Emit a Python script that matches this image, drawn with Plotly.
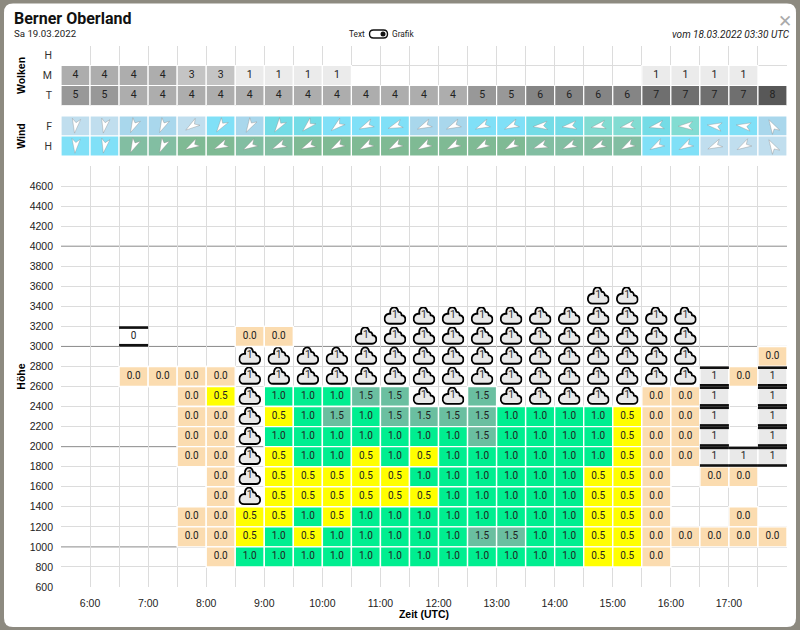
import base64
import plotly.graph_objects as go

W, H = 800, 630

_ = None
C = "C"   # cloud inside the thermal layer
L = "L"   # closed layer, value 1
Z = "Z"   # closed layer, value 0

heights = [3400, 3200, 3000, 2800, 2600, 2400, 2200, 2000, 1800, 1600, 1400, 1200, 1000, 800]
row_3400 = [_, _, _, _, _, _, _, _, _, _, _, _, _, _, _, _, _, _, C, C, _, _, _, _, _]
row_3200 = [_, _, _, _, _, _, _, _, _, _, _, C, C, C, C, C, C, C, C, C, C, C, _, _, _]
row_3000 = [_, _, Z, _, _, _, 0.0, 0.0, _, _, C, C, C, C, C, C, C, C, C, C, C, C, _, _, _]
row_2800 = [_, _, _, _, _, _, C, C, C, C, C, C, C, C, C, C, C, C, C, C, C, C, _, _, 0.0]
row_2600 = [_, _, 0.0, 0.0, 0.0, 0.0, C, C, C, C, C, C, C, C, C, C, C, C, C, C, C, C, L, 0.0, L]
row_2400 = [_, _, _, _, 0.0, 0.5, C, 1.0, 1.0, 1.0, 1.5, 1.5, C, C, 1.5, C, C, C, C, C, 0.0, 0.0, L, _, L]
row_2200 = [_, _, _, _, 0.0, 0.0, C, 0.5, 1.0, 1.5, 1.0, 1.5, 1.5, 1.5, 1.5, 1.0, 1.0, 1.0, 1.0, 0.5, 0.0, 0.0, L, _, L]
row_2000 = [_, _, _, _, 0.0, 0.0, C, 1.0, 1.0, 1.0, 1.0, 1.0, 1.0, 1.0, 1.5, 1.0, 1.0, 1.0, 1.0, 0.5, 0.0, 0.0, L, _, L]
row_1800 = [_, _, _, _, 0.0, 0.0, C, 0.5, 1.0, 1.0, 0.5, 1.0, 0.5, 1.0, 1.0, 1.0, 1.0, 1.0, 1.0, 0.5, 0.0, 0.0, L, L, L]
row_1600 = [_, _, _, _, _, 0.0, C, 0.5, 0.5, 0.5, 0.5, 0.5, 1.0, 1.0, 1.0, 1.0, 1.0, 1.0, 0.5, 0.5, 0.0, _, 0.0, 0.0, _]
row_1400 = [_, _, _, _, _, 0.0, C, 0.5, 0.5, 0.5, 0.5, 0.5, 0.5, 1.0, 1.0, 1.0, 1.0, 1.0, 0.5, 0.5, 0.0, _, _, _, _]
row_1200 = [_, _, _, _, 0.0, 0.0, 0.5, 0.5, 1.0, 0.5, 1.0, 1.0, 1.0, 1.0, 1.0, 1.0, 1.0, 1.0, 0.5, 0.5, 0.0, _, _, 0.0, _]
row_1000 = [_, _, _, _, 0.0, 0.0, 0.5, 1.0, 0.5, 1.0, 1.0, 1.0, 1.0, 1.0, 1.5, 1.5, 1.0, 1.0, 0.5, 0.5, 0.0, 0.0, 0.0, 0.0, 0.0]
row_800 = [_, _, _, _, _, 0.0, 1.0, 1.0, 1.0, 1.0, 1.0, 1.0, 1.0, 1.0, 1.0, 1.0, 1.0, 1.0, 0.5, 0.5, 0.0, _, _, _, _]
rows = [row_3400, row_3200, row_3000, row_2800, row_2600, row_2400, row_2200,
        row_2000, row_1800, row_1600, row_1400, row_1200, row_1000, row_800]

hours = [5.75 + 0.5 * i for i in range(25)]
hour_ticks = list(range(6, 18))
hour_labels = [f"{h}:00" for h in hour_ticks]
height_ticks = list(range(600, 4800, 200))
strong_lines = [1000, 2000, 3000, 4000]
light_lines = [v for v in range(600, 5000, 200) if v not in strong_lines]

clouds_high = [_] * 25
clouds_mid = [4, 4, 4, 4, 3, 3, 1, 1, 1, 1, _, _, _, _, _, _, _, _, _, _, 1, 1, 1, 1, _]
clouds_low = [5, 5, 4, 4, 4, 4, 4, 4, 4, 4, 4, 4, 4, 4, 5, 5, 6, 6, 6, 6, 7, 7, 7, 7, 8]

wind_free_speed = [5, 5, 10, 10, 5, 15, 10, 20, 20, 15, 15, 15, 10, 10, 15, 15, 20, 20, 25, 25, 20, 25, 15, 15, 10]
wind_free_dir = [188, 190, 205, 205, 235, 215, 210, 215, 225, 230, 245, 250, 245, 245, 245, 245,
                 265, 262, 258, 258, 258, 268, 278, 278, 330]
wind_high_speed = [15, 15, 30, 30, 35, 35, 30, 30, 35, 35, 35, 35, 35, 35, 35, 35, 30, 30, 30, 30, 15, 15, 5, 5, 5]
wind_high_dir = [185, 190, 205, 205, 240, 245, 240, 245, 245, 240, 240, 240, 240, 240, 240, 240,
                 250, 245, 245, 240, 240, 240, 245, 240, 330]

value_colors = {0.0: "#fbdcb0", 0.5: "#ffff00", 1.0: "#00ee90", 1.5: "#6abfa0"}
okta_colors = {1: "#ebebeb", 3: "#c4c4c4", 4: "#adadad", 5: "#989898", 6: "#858585", 7: "#6f6f6f", 8: "#585858"}
wind_colors = {5: "#c0deee", 10: "#a9d7ec", 15: "#80e0f7", 20: "#74dce6", 25: "#82dcd2", 30: "#82bea2", 35: "#7fba94"}

FONT = "Roboto"
ARIAL = "Liberation Sans"
GRID = "#dcdcdc"

CLOUD_SVG = (
    '<svg xmlns="http://www.w3.org/2000/svg" viewBox="0 0 24 19">'
    '<path d="M6,17.6 H18.5 C21.4,17.6 23,15.6 23,13.4 C23,11 21.2,9.3 19,9.2 C19,7 17.4,5.6 15.6,5.8 '
    'C15,3 13.4,1.2 11.2,1.2 C8.6,1.2 6.8,3.4 6.9,6.2 C7,7 7.1,7.4 7.2,7.8 C6.6,7.6 6.2,7.6 5.6,7.7 '
    'C3,8.2 1,10.4 1,13 C1,15.6 3,17.6 6,17.6 Z" fill="#e9e9e9" stroke="#000" stroke-width="1.9" '
    'stroke-linejoin="round"/></svg>'
)
cloud_src = "data:image/svg+xml;base64," + base64.b64encode(CLOUD_SVG.encode()).decode()


def arrow_src(angle):
    svg = (
        '<svg xmlns="http://www.w3.org/2000/svg" viewBox="0 0 20 20">'
        f'<path transform="rotate({angle} 10 10)" d="M10,2.8 L14.2,17.2 L10,13.4 L5.8,17.2 Z" '
        'fill="#fff" stroke="#8a8a8a" stroke-opacity="0.7" stroke-width="0.5" stroke-linejoin="round"/></svg>'
    )
    return "data:image/svg+xml;base64," + base64.b64encode(svg.encode()).decode()


def px_x(v):
    return v / W


def px_y(v):
    return 1 - v / H


def rounded(x0, y0, x1, y1, r):
    # rounded box in paper coordinates, given in pixels
    pts = [
        f"M {px_x(x0 + r)},{px_y(y0)}", f"L {px_x(x1 - r)},{px_y(y0)}",
        f"Q {px_x(x1)},{px_y(y0)} {px_x(x1)},{px_y(y0 + r)}", f"L {px_x(x1)},{px_y(y1 - r)}",
        f"Q {px_x(x1)},{px_y(y1)} {px_x(x1 - r)},{px_y(y1)}", f"L {px_x(x0 + r)},{px_y(y1)}",
        f"Q {px_x(x0)},{px_y(y1)} {px_x(x0)},{px_y(y1 - r)}", f"L {px_x(x0)},{px_y(y0 + r)}",
        f"Q {px_x(x0)},{px_y(y0)} {px_x(x0 + r)},{px_y(y0)}", "Z",
    ]
    return " ".join(pts)


fig = go.Figure()

# main height / time grid
bar_x, bar_base, bar_col = [], [], []
txt_x, txt_y, txt_s = [], [], []
cloud_x, cloud_y = [], []
edge_x, edge_y = [], []
images = []
for h, row in zip(heights, rows):
    for hx, v in zip(hours, row):
        if v is None:
            continue
        mid = h + 100
        if v == C:
            cloud_x.append(hx)
            cloud_y.append(mid)
            images.append(dict(source=cloud_src, xref="x", yref="y", x=hx, y=mid + 8, sizex=0.39, sizey=190,
                               xanchor="center", yanchor="middle", sizing="stretch", layer="below"))
        elif v in (L, Z):
            if v == L:
                bar_x.append(hx)
                bar_base.append(h)
                bar_col.append("#e9e9e9")
            txt_x.append(hx)
            txt_y.append(mid)
            txt_s.append("1" if v == L else "0")
            for edge in (h + 12, h + 188):
                edge_x += [hx - 0.25, hx + 0.25, None]
                edge_y += [edge, edge, None]
        else:
            bar_x.append(hx)
            bar_base.append(h)
            bar_col.append(value_colors[v])
            txt_x.append(hx)
            txt_y.append(mid)
            txt_s.append(f"{v:.1f}")

fig.add_trace(go.Bar(x=bar_x, y=[200] * len(bar_x), base=bar_base, width=0.5,
                     marker=dict(color=bar_col, line=dict(color="white", width=1.4)),
                     showlegend=False, hoverinfo="skip"))
fig.add_trace(go.Scatter(x=edge_x, y=edge_y, mode="lines", line=dict(color="#111", width=2.6),
                         connectgaps=False, showlegend=False, hoverinfo="skip"))
fig.add_trace(go.Scatter(x=txt_x, y=txt_y, mode="text", text=txt_s,
                         textfont=dict(family=FONT, size=10, color="#222"),
                         showlegend=False, hoverinfo="skip"))
fig.add_trace(go.Scatter(x=cloud_x, y=[y + 10 for y in cloud_y], mode="text", text=["1"] * len(cloud_x),
                         textfont=dict(family=FONT, size=10.5, color="#333"),
                         showlegend=False, hoverinfo="skip"))

# cloud cover table
cl_x, cl_base, cl_col, cl_txt_y, cl_txt = [], [], [], [], []
for base, row in [(2, clouds_high), (1, clouds_mid), (0, clouds_low)]:
    for hx, v in zip(hours, row):
        if v is None:
            continue
        cl_x.append(hx)
        cl_base.append(base)
        cl_col.append(okta_colors[v])
        cl_txt_y.append(base + 0.5)
        cl_txt.append(str(v))
fig.add_trace(go.Bar(x=cl_x, y=[1] * len(cl_x), base=cl_base, width=0.5, xaxis="x2", yaxis="y2",
                     marker=dict(color=cl_col, line=dict(color="white", width=1.2)),
                     showlegend=False, hoverinfo="skip"))
fig.add_trace(go.Scatter(x=cl_x, y=cl_txt_y, mode="text", text=cl_txt, xaxis="x2", yaxis="y2",
                         textfont=dict(family=FONT, size=10.5, color="#222"),
                         showlegend=False, hoverinfo="skip"))

# wind table, arrows are rotated svg images placed on the table's own axes
for base, speeds, dirs in [(1, wind_free_speed, wind_free_dir), (0, wind_high_speed, wind_high_dir)]:
    fig.add_trace(go.Bar(x=hours, y=[1] * 25, base=[base] * 25, width=0.5, xaxis="x3", yaxis="y3",
                         marker=dict(color=[wind_colors[s] for s in speeds], line=dict(color="white", width=1.2)),
                         showlegend=False, hoverinfo="skip"))
    for hx, d in zip(hours, dirs):
        images.append(dict(source=arrow_src(d), xref="x3", yref="y3", x=hx, y=base + 0.5, sizex=0.345, sizey=1,
                           xanchor="center", yanchor="middle", sizing="stretch", layer="above"))

x_minor = [5.5 + 0.5 * i for i in range(26)]
x_dom = [px_x(61), px_x(787)]
axis_font = dict(family=ARIAL, size=10.5, color="#222")
title_font = dict(family=ARIAL, size=10.5, color="#000")

shapes = [
    dict(type="path", xref="paper", yref="paper", path=rounded(4, 3.5, 796, 627, 9), fillcolor="white",
         line=dict(width=0), layer="below"),
    dict(type="path", xref="paper", yref="paper", path=rounded(369.5, 30, 387.5, 38, 4), fillcolor="white",
         line=dict(color="#111", width=1.4), layer="above"),
    dict(type="circle", xref="paper", yref="paper", x0=px_x(380.5), x1=px_x(385.5), y0=px_y(36.5), y1=px_y(31.5),
         fillcolor="#111", line=dict(width=0), layer="above"),
]
# these sit under the grid layer, so the light grid leaves their heights out
for v in strong_lines:
    shapes.append(dict(type="line", xref="x domain", yref="y", x0=0, x1=1, y0=v, y1=v,
                       line=dict(color="#8a8a8a", width=1), layer="below"))


def note(text, x, y, anchor, size, family=FONT, color="#111", bold=False, italic=False):
    if bold:
        text = f"<b>{text}</b>"
    if italic:
        text = f"<i>{text}</i>"
    return dict(text=text, xref="paper", yref="paper", x=px_x(x), y=px_y(y), xanchor=anchor, yanchor="middle",
                showarrow=False, font=dict(family=family, size=size, color=color))


annotations = [
    note("Berner Oberland", 12, 18, "left", 16, bold=True),
    note("Sa 19.03.2022", 12, 33.5, "left", 9.7, color="#222"),
    note("Text", 367, 34, "right", 8.3, color="#222"),
    note("Grafik", 390, 34, "left", 8.3, color="#222"),
    note("vom 18.03.2022 03:30 UTC", 792, 34, "right", 10, color="#222", italic=True),
    note("✕", 785, 21, "center", 17, family="DejaVu Sans", color="#aaaaaa"),
]

fig.update_layout(
    width=W, height=H,
    margin=dict(l=0, r=0, t=0, b=0, autoexpand=False),
    paper_bgcolor="#8d8a80",
    plot_bgcolor="rgba(0,0,0,0)",
    barmode="overlay",
    showlegend=False,
    shapes=shapes,
    images=images,
    annotations=annotations,
    xaxis=dict(domain=x_dom, range=[5.5, 18], tickmode="array", tickvals=hour_ticks, ticktext=hour_labels,
               showgrid=True, gridcolor=GRID, gridwidth=1, zeroline=False, ticks="", ticklabelstandoff=8,
               tickfont=axis_font, minor=dict(tickmode="array", tickvals=x_minor, showgrid=True, gridcolor=GRID),
               title=dict(text="<b>Zeit (UTC)</b>", font=title_font, standoff=2)),
    yaxis=dict(domain=[px_y(587), px_y(166)], range=[600, 4800], tickmode="array", tickvals=height_ticks,
               showgrid=False, zeroline=False, ticks="", ticklabelstandoff=7,
               tickfont=axis_font, minor=dict(tickmode="array", tickvals=light_lines, showgrid=True, gridcolor=GRID),
               title=dict(text="<b>Höhe</b>", font=title_font, standoff=1)),
    xaxis2=dict(domain=x_dom, range=[5.5, 18], anchor="y2", showticklabels=False, showgrid=False, zeroline=False,
                ticks="", minor=dict(tickmode="array", tickvals=x_minor, showgrid=True, gridcolor=GRID)),
    yaxis2=dict(domain=[px_y(105.5), px_y(45.5)], range=[0, 3], anchor="x2", tickmode="array", tickvals=[0.5, 1.5, 2.5],
                ticktext=["T", "M", "H"], showgrid=False, zeroline=False, ticks="", ticklabelstandoff=8,
                tickfont=dict(family=FONT, size=10.5, color="#333"),
                minor=dict(tickmode="array", tickvals=[0, 1, 2, 3], showgrid=True, gridcolor=GRID),
                title=dict(text="<b>Wolken</b>", font=title_font, standoff=15)),
    xaxis3=dict(domain=x_dom, range=[5.5, 18], anchor="y3", showticklabels=False, showgrid=False, zeroline=False,
                ticks=""),
    yaxis3=dict(domain=[px_y(156), px_y(116)], range=[0, 2], anchor="x3", tickmode="array", tickvals=[0.5, 1.5],
                ticktext=["H", "F"], showgrid=False, zeroline=False, ticks="", ticklabelstandoff=8,
                tickfont=dict(family=FONT, size=10.5, color="#333"),
                title=dict(text="<b>Wind</b>", font=title_font, standoff=16)),
)

fig.write_html("out.html", config={"displayModeBar": False},
               post_script="document.body.style.margin='0';document.body.style.overflow='hidden';")
